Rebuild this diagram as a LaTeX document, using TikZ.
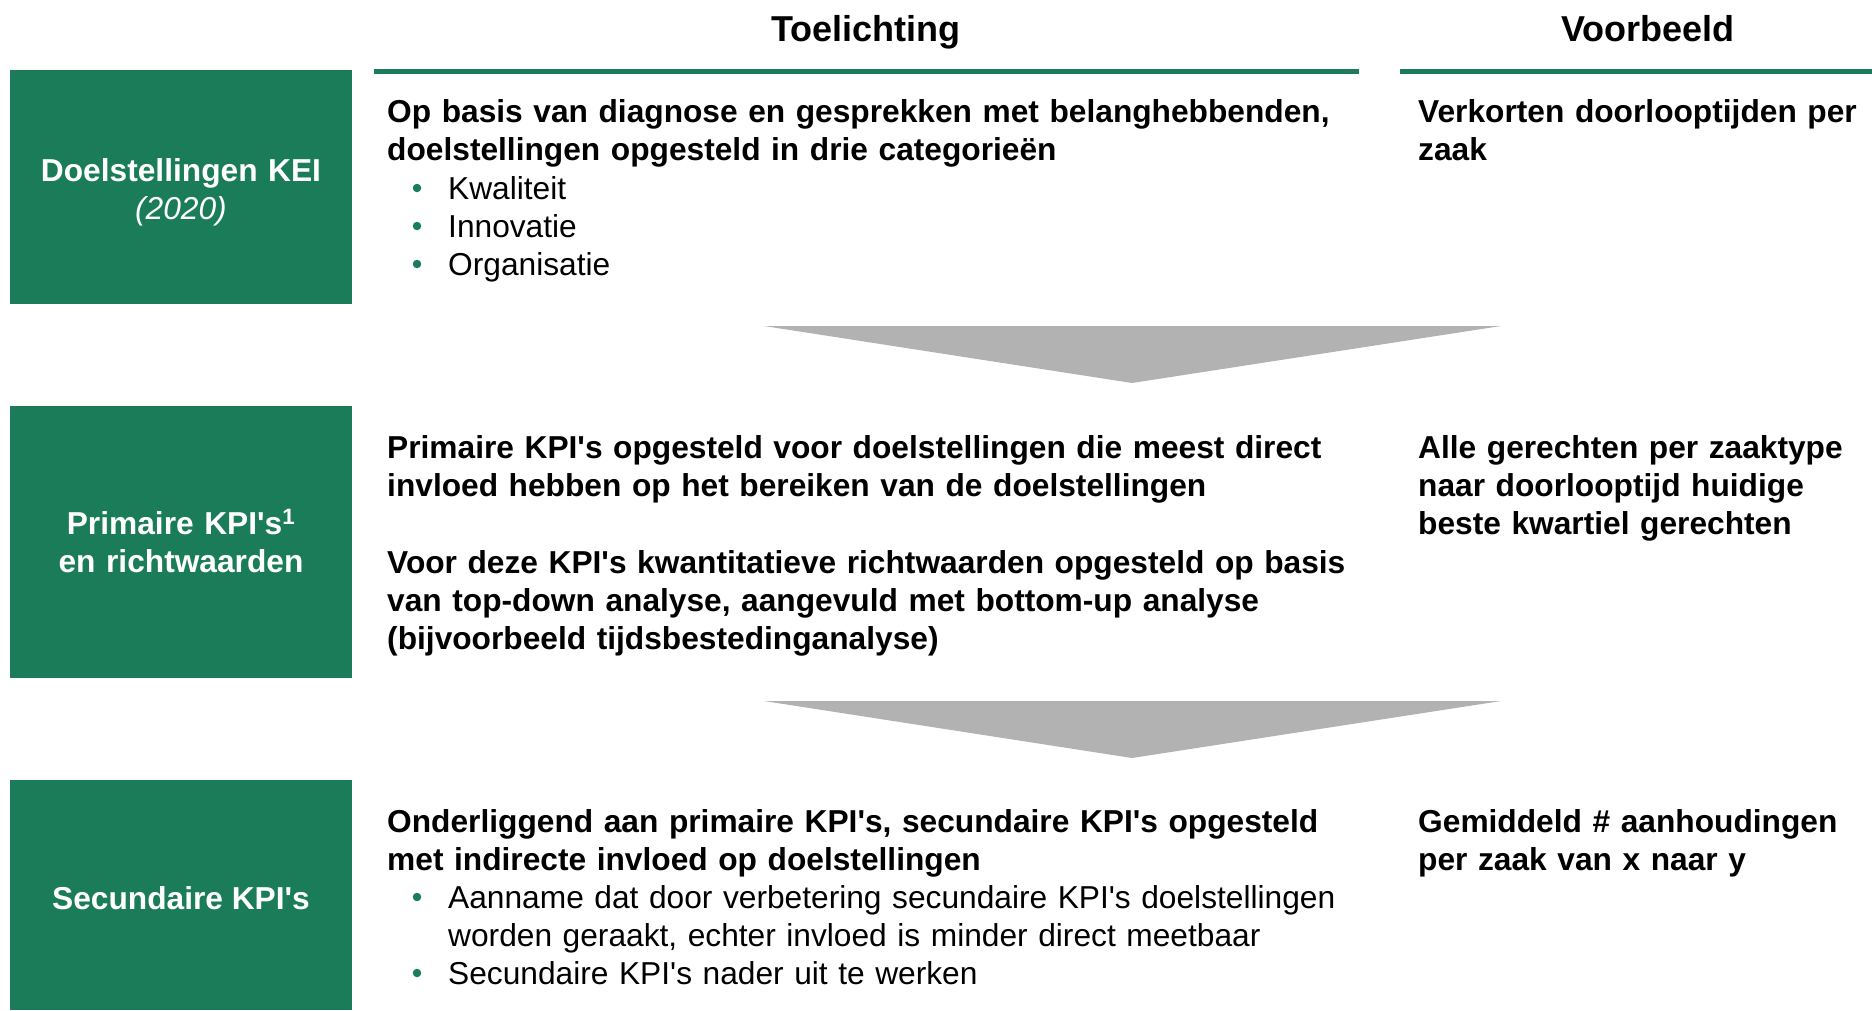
\documentclass[tikz,border=0pt]{standalone}
\usepackage{fontspec}
\setmainfont{Liberation Sans}
\definecolor{kgreen}{RGB}{27,124,89}
\definecolor{kgray}{RGB}{178,178,178}
\newcommand{\ap}{\textquotesingle}
\begin{document}
\begin{tikzpicture}[x=1pt,y=-1pt,
  greenbox/.style={fill=kgreen, draw=none, inner sep=0pt},
  boxlabel/.style={anchor=base, inner sep=0pt, text=white, font=\fontsize{31.7}{38}\selectfont\bfseries, align=center},
  body/.style={anchor=base west, inner sep=0pt, text width=1000pt, align=left, font=\fontsize{31.7}{38}\selectfont\bfseries},
  bodyreg/.style={anchor=base west, inner sep=0pt, text width=1000pt, align=left, font=\fontsize{31.7}{38}\selectfont},
  example/.style={anchor=base west, inner sep=0pt, text width=460pt, align=left, font=\fontsize{31.7}{38}\selectfont\bfseries},
  header/.style={anchor=base, inner sep=0pt, font=\fontsize{36}{42}\selectfont\bfseries},
  bulletdot/.style={circle, fill=kgreen, draw=none, minimum size=8.5pt, inner sep=0pt},
  rule/.style={draw=kgreen, line width=5pt},
  funnel/.style={fill=kgray, draw=none}]
\useasboundingbox (0,0) rectangle (1872,1010);

% headers
\node[header] (hT) at (866,41) {Toelichting};
\node[header] (hV) at (1648,41) {Voorbeeld};
\coordinate (r1a) at (374,71.5);
\coordinate (r1b) at (1359,71.5);
\coordinate (r2a) at (1400,71.5);
\coordinate (r2b) at (1872,71.5);
\draw[rule] (r1a) -- (r1b);
\draw[rule] (r2a) -- (r2b);

% green boxes
\node[greenbox, minimum width=342pt, minimum height=234pt] (b1) at (181,187) {};
\node[greenbox, minimum width=342pt, minimum height=272pt] (b2) at (181,542) {};
\node[greenbox, minimum width=342pt, minimum height=230pt] (b3) at (181,895) {};
\node[boxlabel, text width=330pt] (l1) at (181,181) {Doelstellingen KEI\\\textmd{\textit{(2020)}}};
\node[boxlabel, text width=330pt] (l2) at (181,534) {Primaire KPI\ap s\textsuperscript{1}\\en richtwaarden};
\node[boxlabel] (l3) at (181,909) {Secundaire KPI\ap s};

% row 1
\node[body] (t1) at (387,122) {Op basis van diagnose en gesprekken met belanghebbenden,\\doelstellingen opgesteld in drie categorieën};
\node[bodyreg] (t1b) at (448,199) {Kwaliteit\\Innovatie\\Organisatie};
\node[bulletdot] (d1) at (417,188) {};
\node[bulletdot] (d2) at (417,226) {};
\node[bulletdot] (d3) at (417,264) {};
\node[example] (e1) at (1418,122) {Verkorten doorlooptijden per\\zaak};

% arrow 1
\fill[funnel] (764,326) -- (1501,326) -- (1132,383) -- cycle;

% row 2
\node[body] (t2) at (387,458) {Primaire KPI\ap s opgesteld voor doelstellingen die meest direct\\invloed hebben op het bereiken van de doelstellingen};
\node[body] (t2b) at (387,573) {Voor deze KPI\ap s kwantitatieve richtwaarden opgesteld op basis\\van top-down analyse, aangevuld met bottom-up analyse\\(bijvoorbeeld tijdsbestedinganalyse)};
\node[example] (e2) at (1418,458) {Alle gerechten per zaaktype\\naar doorlooptijd huidige\\beste kwartiel gerechten};

% arrow 2
\fill[funnel] (764,701) -- (1501,701) -- (1132,758) -- cycle;

% row 3
\node[body] (t3) at (387,832) {Onderliggend aan primaire KPI\ap s, secundaire KPI\ap s opgesteld\\met indirecte invloed op doelstellingen};
\node[bodyreg] (t3b) at (448,908) {Aanname dat door verbetering secundaire KPI\ap s doelstellingen\\worden geraakt, echter invloed is minder direct meetbaar\\Secundaire KPI\ap s nader uit te werken};
\node[bulletdot] (d4) at (417,897) {};
\node[bulletdot] (d5) at (417,973) {};
\node[example] (e3) at (1418,832) {Gemiddeld \# aanhoudingen\\per zaak van x naar y};
\end{tikzpicture}
\end{document}
